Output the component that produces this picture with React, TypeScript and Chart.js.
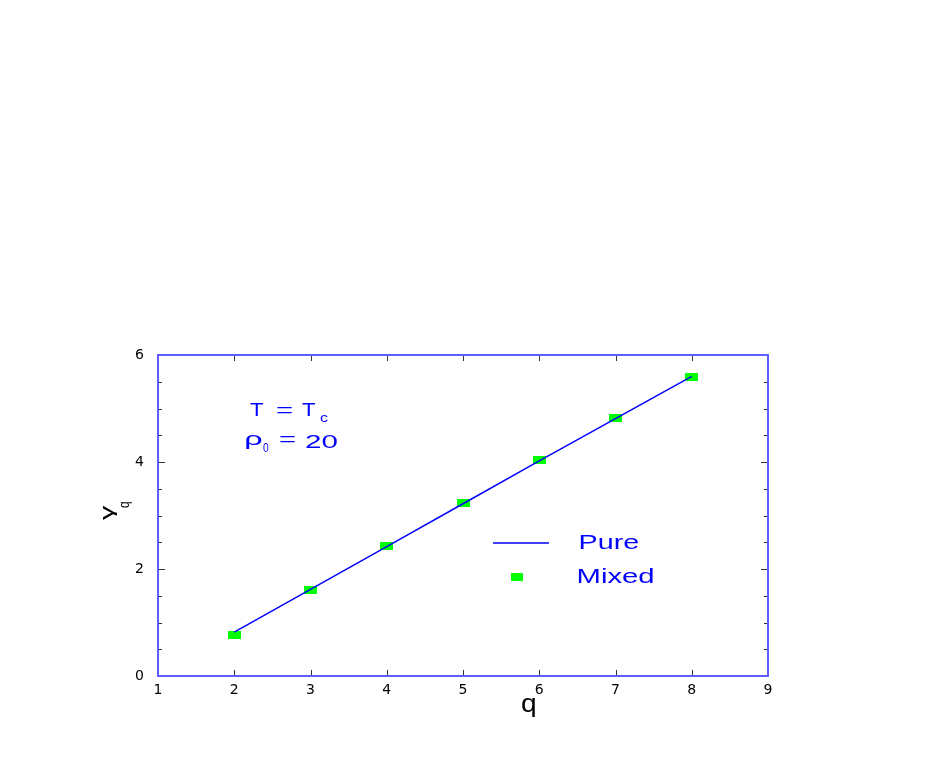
import React, { useEffect, useRef } from "react";
import { Chart, registerables } from "chart.js";

Chart.register(...registerables);

const qValues = [2, 3, 4, 5, 6, 7, 8];
const pureValues = [0.82, 1.62, 2.42, 3.22, 4.02, 4.81, 5.6];
const mixedValues = [0.76, 1.61, 2.43, 3.23, 4.03, 4.82, 5.58];
const xTickValues = [1, 2, 3, 4, 5, 6, 7, 8, 9];
const yLabelValues = [0, 2, 4, 6];
const legendLabels = ["Pure", "Mixed"];

const BLUE = "#0000ff";
const FRAME = "#5c5cff";
const GREEN = "#00ff00";
const FONT = "'Liberation Sans', Arial, Helvetica, sans-serif";
const TICK_FONT = "'DejaVu Sans', 'Liberation Sans', sans-serif";

function makeMarker(): HTMLCanvasElement {
  const c = document.createElement("canvas");
  c.width = 13;
  c.height = 8;
  const g = c.getContext("2d")!;
  g.fillStyle = GREEN;
  g.fillRect(0, 0, 13, 8);
  return c;
}

// draw text so that its ink spans [x0, x1] horizontally (stretched font look)
function drawFit(ctx: CanvasRenderingContext2D, text: string, x0: number, x1: number, baseline: number, size: number) {
  ctx.save();
  ctx.font = `${size}px ${FONT}`;
  ctx.textAlign = "left";
  ctx.textBaseline = "alphabetic";
  const m = ctx.measureText(text);
  const inkL = -m.actualBoundingBoxLeft;
  const inkW = m.actualBoundingBoxRight + m.actualBoundingBoxLeft;
  const sx = inkW > 0 ? (x1 - x0) / inkW : 1;
  ctx.translate(x0, baseline);
  ctx.scale(sx, 1);
  ctx.fillText(text, -inkL, 0);
  ctx.restore();
}

const decorPlugin = {
  id: "decor",
  afterDatasetsDraw(chart: any) {
    const ctx = chart.ctx as CanvasRenderingContext2D;
    const { left, right, top, bottom } = chart.chartArea;
    const xs = chart.scales.x;
    const ys = chart.scales.y;
    ctx.save();
    // ticks (inward)
    ctx.strokeStyle = "#333";
    ctx.lineWidth = 1;
    ctx.beginPath();
    xTickValues.forEach((v) => {
      const px = Math.round(xs.getPixelForValue(v)) + 0.5;
      ctx.moveTo(px, bottom);
      ctx.lineTo(px, bottom - 6);
      ctx.moveTo(px, top);
      ctx.lineTo(px, top + 6);
    });
    ys.ticks.forEach((t: any) => {
      const major = yLabelValues.includes(t.value);
      const len = major ? 7 : 4;
      const py = Math.round(ys.getPixelForValue(t.value)) + 0.5;
      ctx.moveTo(left, py);
      ctx.lineTo(left + len, py);
      ctx.moveTo(right, py);
      ctx.lineTo(right - len, py);
    });
    ctx.stroke();
    // frame
    ctx.strokeStyle = FRAME;
    ctx.lineWidth = 2;
    ctx.strokeRect(left, top, right - left, bottom - top);

    // annotations
    ctx.fillStyle = BLUE;
    drawFit(ctx, "T", 250, 264, 416, 19);
    drawFit(ctx, "=", 276, 293, 416, 19);
    drawFit(ctx, "T", 302, 316, 416, 19);
    drawFit(ctx, "c", 320, 328, 422, 12);
    drawFit(ctx, "ρ", 246, 263, 445, 19);
    drawFit(ctx, "0", 263, 269, 452, 12);
    drawFit(ctx, "=", 279, 296, 445, 19);
    drawFit(ctx, "20", 305, 337, 448, 19);

    // legend
    ctx.strokeStyle = BLUE;
    ctx.lineWidth = 1.5;
    ctx.beginPath();
    ctx.moveTo(493, 543);
    ctx.lineTo(549, 543);
    ctx.stroke();
    ctx.fillStyle = GREEN;
    ctx.fillRect(511, 573, 12, 8);
    ctx.fillStyle = BLUE;
    drawFit(ctx, legendLabels[0], 580, 639, 549, 20);
    drawFit(ctx, legendLabels[1], 578, 653, 583, 20);

    // axis titles
    ctx.fillStyle = "#000";
    drawFit(ctx, "q", 522, 535, 712, 26);
    ctx.save();
    ctx.translate(113, 520);
    ctx.rotate(-Math.PI / 2);
    drawFit(ctx, "γ", 0, 15, 0, 19);
    drawFit(ctx, "q", 12, 18, 16, 14);
    ctx.restore();
    ctx.restore();
  },
};

export default function App() {
  const ref = useRef<HTMLCanvasElement>(null);
  useEffect(() => {
    if (!ref.current) return;
    const marker = makeMarker();
    const chart = new Chart(ref.current, {
      type: "scatter",
      data: {
        datasets: [
          {
            label: legendLabels[0],
            data: qValues.map((q, i) => ({ x: q, y: pureValues[i] })),
            showLine: true,
            borderColor: BLUE,
            borderWidth: 1.5,
            pointRadius: 0,
            fill: false,
          },
          {
            label: legendLabels[1],
            data: qValues.map((q, i) => ({ x: q, y: mixedValues[i] })),
            showLine: false,
            pointStyle: marker as any,
            pointRadius: 6,
            backgroundColor: GREEN,
            borderColor: GREEN,
          },
        ],
      },
      options: {
        responsive: false,
        animation: false,
        devicePixelRatio: 1,
        layout: { padding: { left: 108, right: 158, top: 355, bottom: 47 } },
        plugins: { legend: { display: false }, tooltip: { enabled: false } },
        scales: {
          x: {
            type: "linear",
            min: 1,
            max: 9,
            afterBuildTicks: (s: any) => {
              s.ticks = xTickValues.map((v) => ({ value: v }));
            },
            afterFit: (s: any) => {
              s.height = 40;
            },
            grid: { display: false, drawTicks: false },
            border: { display: false },
            ticks: {
              padding: 6,
              color: "#000",
              font: { family: TICK_FONT, size: 14 },
              maxRotation: 0,
              autoSkip: false,
            },
          },
          y: {
            type: "linear",
            min: 0,
            max: 6,
            afterFit: (s: any) => {
              s.width = 50;
            },
            grid: { display: false, drawTicks: false },
            border: { display: false },
            ticks: {
              stepSize: 0.5,
              padding: 14,
              color: "#000",
              font: { family: TICK_FONT, size: 14 },
              autoSkip: false,
              callback: (v: any) => (yLabelValues.includes(Number(v)) ? String(v) : ""),
            },
          },
        },
      },
      plugins: [decorPlugin],
    });
    return () => chart.destroy();
  }, []);
  return (
    <div style={{ position: "fixed", left: 0, top: 0, width: 926, height: 763, background: "#fff" }}>
      <canvas ref={ref} width={926} height={763} style={{ width: 926, height: 763 }} />
    </div>
  );
}
